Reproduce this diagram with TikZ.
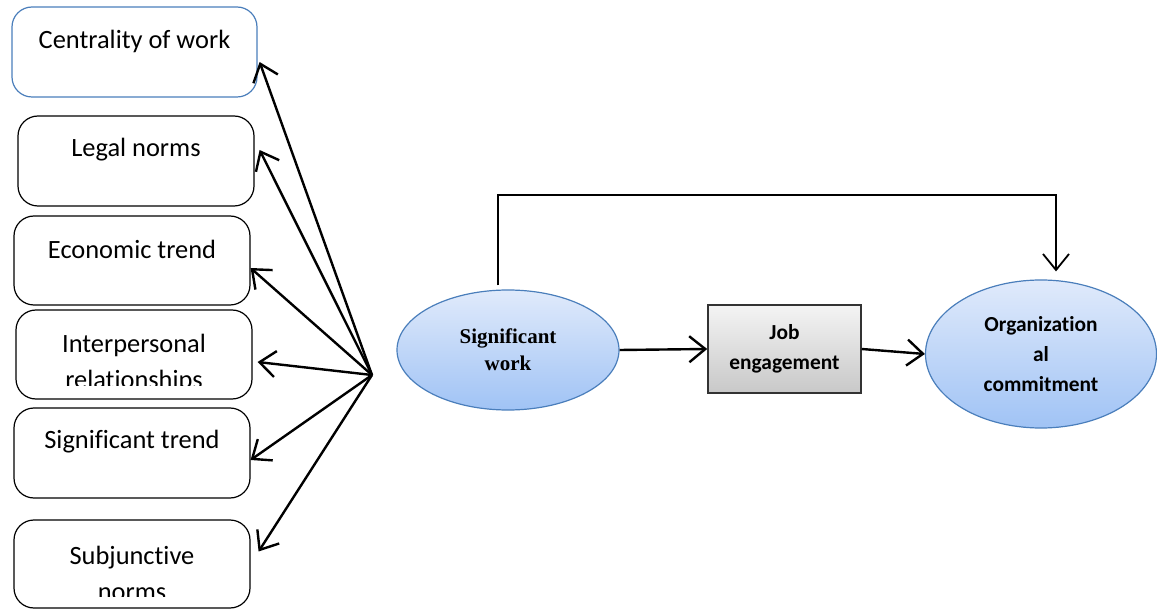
\documentclass[tikz,border=0pt]{standalone}
\usepackage{fontspec}
\setmainfont{Carlito}[Ligatures={NoCommon}]
\newfontfamily\timesfont{Liberation Serif}
\usetikzlibrary{shapes.geometric, arrows.meta, calc}

\definecolor{boxblue}{RGB}{74,126,187}
\definecolor{elltop}{RGB}{224,234,251}
\definecolor{ellbot}{RGB}{160,195,245}
\definecolor{jobtop}{RGB}{244,244,244}
\definecolor{jobbot}{RGB}{200,200,200}

\tikzset{
    factor/.style = {draw, line width=0.6pt, rounded corners=10pt, inner sep=0pt},
    factortext/.style = {font=\fontsize{13.2}{18}\selectfont, align=center, inner sep=0pt},
    oval/.style = {ellipse, draw=boxblue, line width=0.6pt, top color=elltop, bottom color=ellbot, inner sep=0pt, align=center},
    arr/.style = {-{Straight Barb[length=8pt, width=13pt]}, line width=1.2pt},
}

\begin{document}
\begin{tikzpicture}[x=0.5pt, y=-0.5pt]
    \useasboundingbox (0, 0) rectangle (1157, 609);

    % left column of factors
    \node [factor, draw=boxblue, minimum width=122.5pt, minimum height=45pt] (cent) at (134.5, 52) {};
    \node [factor, minimum width=118pt, minimum height=45pt] (legal) at (136, 161) {};
    \node [factor, minimum width=118pt, minimum height=44.5pt] (econ) at (132, 260.5) {};
    \node [factor, minimum width=118pt, minimum height=44.5pt] (inter) at (134, 354.5) {};
    \node [factor, minimum width=118pt, minimum height=45pt] (strend) at (132, 453) {};
    \node [factor, minimum width=118pt, minimum height=44pt] (subj) at (132, 564) {};

    \node [factortext] (centtext) at (134.5, 41) {Centrality of work};
    \node [factortext] (legaltext) at (136, 150) {Legal norms};
    \node [factortext] (econtext) at (132, 249) {Economic trend};
    \begin{scope}
        \clip ([yshift=7pt]inter.south west) rectangle (inter.north east);
        \node [factortext] (intertext) at (134, 363) {Interpersonal\\relationships};
    \end{scope}
    \node [factortext] (strendtext) at (132, 442) {Significant trend};
    \begin{scope}
        \clip ([yshift=6pt]subj.south west) rectangle (subj.north east);
        \node [factortext] (subjtext) at (132, 573) {Subjunctive\\norms};
    \end{scope}

    % arrows from the hub to the factors
    \coordinate (hub) at (372, 375);
    \draw [arr] (hub) -- ([shift={(1pt,-5pt)}]cent.east);
    \draw [arr] (hub) -- ([shift={(2.5pt,5.5pt)}]legal.east);
    \draw [arr] (hub) -- ([shift={(0pt,-3.75pt)}]econ.east);
    \draw [arr] (hub) -- ([shift={(2.5pt,-3.75pt)}]inter.east);
    \draw [arr] (hub) -- ([shift={(0pt,-3.5pt)}]strend.east);
    \draw [arr] (hub) -- ([shift={(4pt,6.25pt)}]subj.east);

    % main chain
    \node [oval, minimum width=111pt, minimum height=60pt, font=\timesfont\bfseries\fontsize{10.5}{13.5}\selectfont] (sw) at (508, 350) {Significant\\work};
    \node [draw=black!80, line width=0.8pt, top color=jobtop, bottom color=jobbot, minimum width=76.5pt, minimum height=44pt, inner sep=0pt, align=center, font=\bfseries\fontsize{10.7}{15}\selectfont] (job) at (784.5, 349) {Job\\engagement};
    \node [oval, minimum width=115.5pt, minimum height=74pt, font=\bfseries\fontsize{10.7}{15}\selectfont] (oc) at (1041, 354) {Organization\\al\\commitment};

    \coordinate (topr) at (1056, 195);
    \draw [arr] (sw.east) -- (job.west);
    \draw [arr] (job.east) -- (oc.west);
    \draw [arr, line width=0.9pt] ([shift={(-5pt,2pt)}]sw.north) |- (topr) -- ([shift={(7.5pt,4pt)}]oc.north);
\end{tikzpicture}
\end{document}
